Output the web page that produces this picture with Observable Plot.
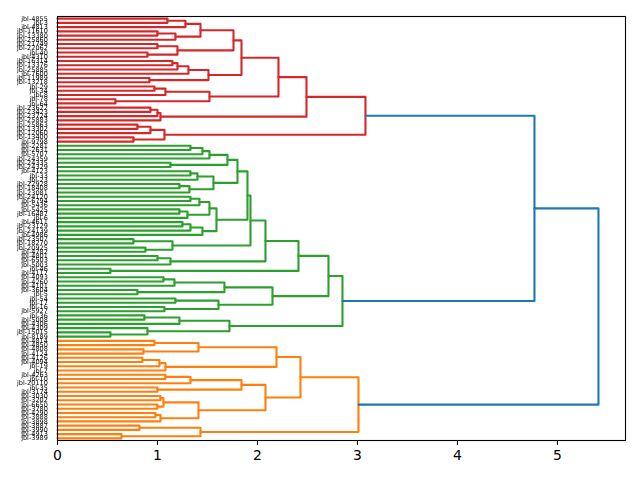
<!DOCTYPE html>
<html>
<head>
<meta charset="utf-8">
<script src="https://cdn.jsdelivr.net/npm/d3@7"></script>
<script src="https://cdn.jsdelivr.net/npm/@observablehq/plot@0.6"></script>
<style>
  html, body { margin: 0; padding: 0; background: #fff; }
  #chart svg { display: block; }
  .leaf-labels { filter: grayscale(1); }
</style>
</head>
<body>
<div id="chart"></div>
<script>
// Leaf labels, listed from the top of the chart to the bottom.
const leafLabels = [
  "jbl-4855","jbl-3","jbl-4813","jbl-11610","jbl-13380","jbl-25860","jbl-21749","jbl-22062","jbl-40","jbl-4310",
  "jbl-16314","jbl-13376","jbl-25885","jbl-7600","jbl-11989","jbl-13218","jbl-29","jbl-34","jbl-8","jbl-78",
  "jbl-64","jbl-23622","jbl-23423","jbl-23724","jbl-25883","jbl-25863","jbl-13302","jbl-12060","jbl-13400","jbl-9798",
  "jbl-2281","jbl-2631","jbl-5707","jbl-24359","jbl-24335","jbl-24329","jbl-4123","jbl-33","jbl-23","jbl-22928",
  "jbl-18408","jbl-23081","jbl-24120","jbl-6794","jbl-5436","jbl-5425","jbl-16487","jbl-6","jbl-4611","jbl-23129",
  "jbl-24139","jbl-4986","jbl-23507","jbl-18270","jbl-20925","jbl-4782","jbl-4801","jbl-6503","jbl-5003","jbl-46",
  "jbl-4117","jbl-4093","jbl-4260","jbl-4101","jbl-3604","jbl-5","jbl-54","jbl-17","jbl-16","jbl-5927",
  "jbl-36","jbl-5008","jbl-4306","jbl-4309","jbl-15015","jbl-8189","jbl-4814","jbl-4850","jbl-4808","jbl-4124",
  "jbl-4126","jbl-4094","jbl-19","jbl-7","jbl-4263","jbl-10","jbl-20110","jbl-35","jbl-3174","jbl-3030",
  "jbl-3202","jbl-6650","jbl-3780","jbl-4290","jbl-3888","jbl-3898","jbl-3887","jbl-3990","jbl-4913","jbl-3989"
];

// Merges: [node, left, right, distance]; numbers are leaf positions, strings are earlier nodes.
const redMerges = [
  ["a0", 0, 1, 1.10], ["a1", "a0", 2, 1.28], ["a2", 3, 4, 1.00], ["a3", "a2", 5, 1.18], ["a4", "a1", "a3", 1.43],
  ["b0", 6, 7, 1.00], ["b1", 8, 9, 0.90], ["b2", "b0", "b1", 1.20], ["a5", "a4", "b2", 1.76],
  ["c0", 10, 11, 1.15], ["c1", "c0", 12, 1.20], ["c2", "c1", 13, 1.31], ["c3", 14, 15, 0.92], ["c4", "c2", "c3", 1.51],
  ["a6", "a5", "c4", 1.84],
  ["d0", 16, 17, 0.97], ["d1", "d0", 18, 1.08], ["d2", 19, 20, 0.58], ["d3", "d1", "d2", 1.52],
  ["a7", "a6", "d3", 2.21],
  ["e0", 21, 22, 0.93], ["e1", "e0", 23, 1.00], ["e2", "e1", 24, 1.03],
  ["a8", "a7", "e2", 2.49],
  ["f0", 25, 26, 0.80], ["f1", "f0", 27, 0.93], ["f2", 28, 29, 0.76], ["f3", "f1", "f2", 1.07],
  ["R", "a8", "f3", 3.08]
];

const greenMerges = [
  ["g1", 30, 31, 1.33], ["g2", "g1", 32, 1.45], ["g3", "g2", 33, 1.52], ["g4", 34, 35, 1.13], ["g5", "g3", "g4", 1.70],
  ["g6", 36, 37, 1.33], ["g7", "g6", 38, 1.40], ["g8", 39, 40, 1.22], ["g9", "g8", 41, 1.32], ["g10", "g7", "g9", 1.56],
  ["g11", "g5", "g10", 1.80],
  ["g12", 42, 43, 1.33], ["g13", "g12", 44, 1.42], ["g14", 45, 46, 1.22], ["g15", "g14", 47, 1.30], ["g16", "g13", "g15", 1.52],
  ["g17", 48, 49, 1.25], ["g18", "g17", 50, 1.33], ["g19", "g18", 51, 1.45], ["g20", "g16", "g19", 1.59],
  ["g21", "g11", "g20", 1.90],
  ["g22", 52, 53, 0.76], ["g23", 54, 55, 0.88], ["g24", "g22", "g23", 1.15], ["g25", "g21", "g24", 1.93],
  ["g26", 56, 57, 1.00], ["g27", "g26", 58, 1.13], ["g28", "g25", "g27", 2.08],
  ["g29", 59, 60, 0.53], ["g30", "g28", "g29", 2.41],
  ["h1", 61, 62, 1.06], ["h2", "h1", 63, 1.17], ["h3", 64, 65, 0.80], ["h4", "h2", "h3", 1.67],
  ["h5", 66, 67, 1.18], ["h6", 68, 69, 1.07], ["h7", "h5", "h6", 1.61], ["h8", "h4", "h7", 2.15],
  ["g31", "g30", "h8", 2.71],
  ["i1", 70, 71, 0.87], ["i2", "i1", 72, 1.22], ["i3", 74, 75, 0.53], ["i4", 73, "i3", 0.90], ["i5", "i2", "i4", 1.72],
  ["G", "g31", "i5", 2.85]
];

const orangeMerges = [
  ["o1", 76, 77, 0.97], ["o2", 78, 79, 0.86], ["o3", "o1", "o2", 1.41],
  ["o4", 80, 81, 0.85], ["o5", "o4", 82, 1.02], ["o6", "o5", 83, 1.08], ["o7", "o3", "o6", 2.19],
  ["p1", 84, 85, 1.08], ["p2", "p1", 86, 1.33], ["p3", 87, 88, 1.00], ["p4", "p2", "p3", 1.84],
  ["p5", 89, 90, 1.03], ["p6", 91, 92, 1.00], ["p7", "p5", "p6", 1.06], ["p8", 93, 94, 0.98], ["p9", "p8", 95, 1.03],
  ["p10", "p7", "p9", 1.41], ["p11", "p4", "p10", 2.08],
  ["o8", "o7", "p11", 2.43],
  ["q1", 96, 97, 0.82], ["q2", 98, 99, 0.64], ["q3", "q1", "q2", 1.43],
  ["O", "o8", "q3", 3.01]
];

const rootMerges = [
  ["RG", "R", "G", 4.77],
  ["root", "RG", "O", 5.41]
];

const xTicks = [0, 1, 2, 3, 4, 5];
// Cluster colours, assigned from the bottom cluster upward; links above the cut are blue.
const clusterPalette = ["#ff7f0e", "#2ca02c", "#d62728"];
const aboveCutColor = "#1f77b4";

// ---- layout of the tree ----
const merges = [...redMerges, ...greenMerges, ...orangeMerges, ...rootMerges];
const nodes = new Map();
const child = c => typeof c === "number" ? {y: c, h: 0, leaf: true} : nodes.get(c);
for (const [name, a, b, h] of merges) {
  const A = child(a), B = child(b);
  nodes.set(name, {name, A, B, h, y: (A.y + B.y) / 2});
}
const maxH = d3.max(merges, m => m[3]);
const cut = 0.7 * maxH;

// find the clusters below the cut, colour them bottom-first
const clusterRoots = [];
(function walk(n, parentAbove) {
  if (!n || n.leaf) return;
  if (n.h < cut && parentAbove) clusterRoots.push(n);
  walk(n.A, n.h >= cut);
  walk(n.B, n.h >= cut);
})(nodes.get("root"), true);
clusterRoots.sort((p, q) => q.y - p.y);
const colorOf = new Map();
clusterRoots.forEach((r, i) => {
  const c = clusterPalette[i % clusterPalette.length];
  (function paint(n) { if (!n || n.leaf) return; colorOf.set(n, c); paint(n.A); paint(n.B); })(r);
});

const points = [];
for (const n of nodes.values()) {
  const color = colorOf.get(n) ?? aboveCutColor;
  for (const [x, y] of [[n.A.h, n.A.y], [n.h, n.A.y], [n.h, n.B.y], [n.B.h, n.B.y]]) {
    points.push({id: n.name, x, y, color});
  }
}

const N = leafLabels.length;
const chart = Plot.plot({
  width: 640,
  height: 480,
  marginLeft: 57,
  marginRight: 15,
  marginTop: 16,
  marginBottom: 40,
  style: {fontFamily: "'DejaVu Sans', sans-serif", background: "#fff", color: "#000"},
  x: {domain: [0, maxH * 1.05], axis: null},
  y: {domain: [-0.5, N - 0.5], reverse: true, axis: null},
  color: {type: "identity"},
  marks: [
    Plot.line(points, {x: "x", y: "y", z: "id", stroke: "color", strokeWidth: 2.1, strokeLinejoin: "round", curve: "linear"}),
    Plot.frame({stroke: "#000", strokeWidth: 1.1}),
    Plot.axisX({ticks: xTicks, tickSize: 4.9, tickPadding: 4.9, tickFormat: d3.format("d"), fontSize: 13.9, stroke: "#000", fill: "#000", strokeWidth: 1.1, label: null}),
    Plot.axisY({ticks: d3.range(N), tickSize: 0, tickPadding: 9.7, tickFormat: i => leafLabels[i], fontSize: 6.5, fill: "#000", label: null, className: "leaf-labels"})
  ]
});
document.getElementById("chart").appendChild(chart);
</script>
</body>
</html>
